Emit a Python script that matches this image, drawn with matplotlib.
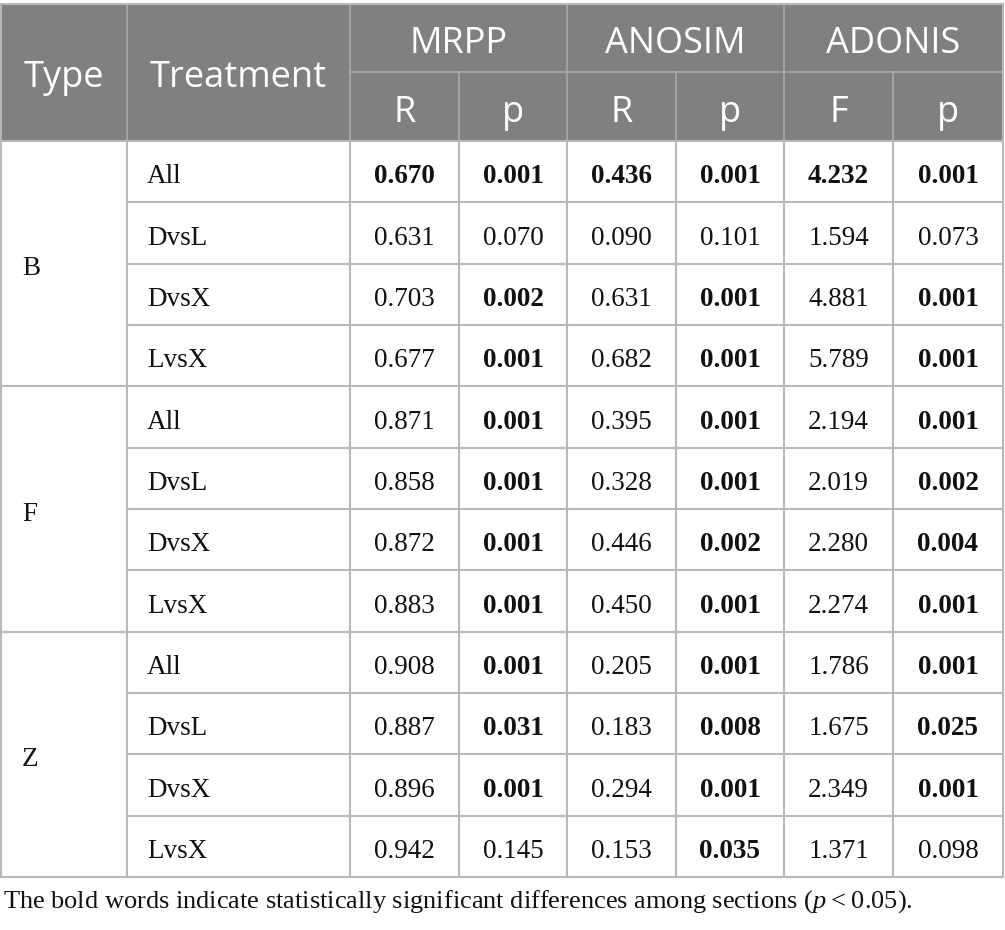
import matplotlib.pyplot as plt

types = ["B", "F", "Z"]
treatments = ["All", "DvsL", "DvsX", "LvsX"]
groups = ["MRPP", "ANOSIM", "ADONIS"]
subheads = ["R", "p", "R", "p", "F", "p"]

mrpp_r = ["0.670", "0.631", "0.703", "0.677", "0.871", "0.858", "0.872", "0.883",
          "0.908", "0.887", "0.896", "0.942"]
mrpp_p = ["0.001", "0.070", "0.002", "0.001", "0.001", "0.001", "0.001", "0.001",
          "0.001", "0.031", "0.001", "0.145"]
anosim_r = ["0.436", "0.090", "0.631", "0.682", "0.395", "0.328", "0.446", "0.450",
            "0.205", "0.183", "0.294", "0.153"]
anosim_p = ["0.001", "0.101", "0.001", "0.001", "0.001", "0.001", "0.002", "0.001",
            "0.001", "0.008", "0.001", "0.035"]
adonis_f = ["4.232", "1.594", "4.881", "5.789", "2.194", "2.019", "2.280", "2.274",
            "1.786", "1.675", "2.349", "1.371"]
adonis_p = ["0.001", "0.073", "0.001", "0.001", "0.001", "0.002", "0.004", "0.001",
            "0.001", "0.025", "0.001", "0.098"]
bold_rows = [0]  # first row is fully bold in the original

cols = [mrpp_r, mrpp_p, anosim_r, anosim_p, adonis_f, adonis_p]
is_p = [False, True, False, True, False, True]

plt.rcParams['mathtext.fontset'] = 'custom'
plt.rcParams['mathtext.it'] = 'Liberation Serif:italic'
plt.rcParams['mathtext.rm'] = 'Liberation Serif'

W, H = 1005, 930
fig = plt.figure(figsize=(W / 100, H / 100), dpi=100)
ax = fig.add_axes([0, 0, 1, 1])
ax.set_xlim(0, W)
ax.set_ylim(H, 0)
ax.axis("off")

xs = [1, 127, 350, 459, 567, 676, 784, 893, 1003]
y_top, y_mid, y_head = 4, 72, 141
row_h = (877 - y_head) / 12
y_bot = y_head + 12 * row_h

head_bg = "#808080"
line_c = "#b8b8b8"
head_line = "#a8a8a8"
txt_c = "#111111"
sans = "Open Sans"
serif = "Liberation Serif"
hsize, bsize = 26, 19.5

# header background
ax.add_patch(plt.Rectangle((xs[0], y_top), xs[-1] - xs[0], y_head - y_top,
                           facecolor=head_bg, edgecolor="none"))
# header lines
for x in xs[1:-1]:
    y0 = y_top if x in (xs[1], xs[2], xs[4], xs[6]) else y_mid
    ax.plot([x, x], [y0, y_head], color=head_line, lw=1.2)
ax.plot([xs[2], xs[-1]], [y_mid, y_mid], color=head_line, lw=1.2)

yc_all = (y_top + y_head) / 2 + 14.5
ax.text((xs[0] + xs[1]) / 2, yc_all, "Type", ha="center", va="baseline",
        color="white", fontsize=hsize, family=sans)
ax.text((xs[1] + xs[2]) / 2, yc_all, "Treatment", ha="center",
        va="baseline", color="white", fontsize=hsize, family=sans)
for i, g in enumerate(groups):
    ax.text((xs[2 + 2 * i] + xs[4 + 2 * i]) / 2, (y_top + y_mid) / 2 + 15, g,
            ha="center", va="baseline", color="white", fontsize=hsize, family=sans)
for j, s in enumerate(subheads):
    ax.text((xs[2 + j] + xs[3 + j]) / 2, (y_mid + y_head) / 2 + 15.5, s,
            ha="center", va="baseline", color="white", fontsize=hsize, family=sans)

# body grid
for k in range(13):
    y = y_head + k * row_h
    x0 = xs[0] if k % 4 == 0 else xs[1]
    ax.plot([x0, xs[-1]], [y, y], color=line_c, lw=1.5)
for x in xs:
    ax.plot([x, x], [y_head, y_bot], color=line_c, lw=1.5)
ax.plot([xs[0], xs[-1]], [y_top, y_top], color=line_c, lw=1.5)
ax.plot([xs[0], xs[0]], [y_top, y_head], color=line_c, lw=1.5)
ax.plot([xs[-1], xs[-1]], [y_top, y_head], color=line_c, lw=1.5)

for gi, t in enumerate(types):
    yc = y_head + (gi * 4 + 2) * row_h
    ax.text(22, yc + 11.5, t, ha="left", va="baseline", fontsize=bsize,
            family=serif, color=txt_c)

for r in range(12):
    yc = y_head + (r + 0.5) * row_h + 11.5
    ax.text(147, yc, treatments[r % 4], ha="left", va="baseline", fontsize=bsize,
            family=serif, color=txt_c)
    for j, col in enumerate(cols):
        val = col[r]
        bold = r in bold_rows or (is_p[j] and float(val) < 0.05)
        ax.text((xs[2 + j] + xs[3 + j]) / 2, yc, val, ha="center", va="baseline",
                fontsize=bsize, family=serif, color=txt_c,
                fontweight="bold" if bold else "normal")

ax.text(3, 908, "The bold words indicate statistically significant differences "
        "among sections ($p$\u2009<\u20090.05).", ha="left", va="baseline",
        fontsize=19, family=serif, color=txt_c)

fig.savefig("out.png", dpi=100)
